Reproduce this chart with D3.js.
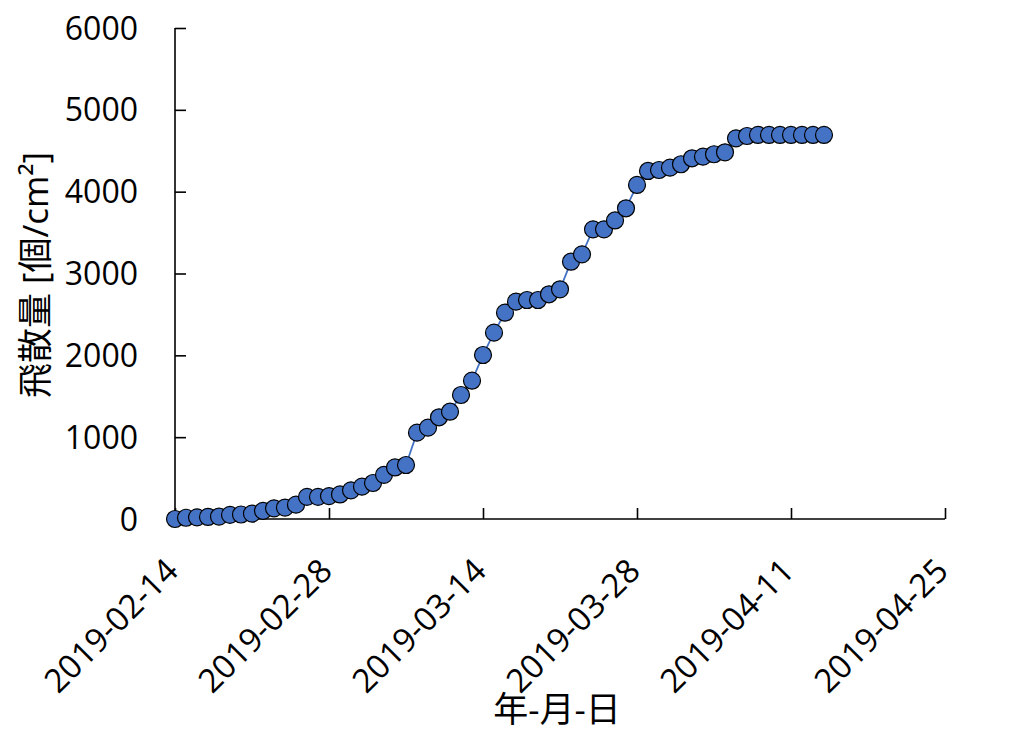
<!DOCTYPE html>
<html>
<head>
<meta charset="utf-8">
<script src="https://cdn.jsdelivr.net/npm/d3@7"></script>
<style>
body { margin: 0; background: #fff; }
svg text { font-family: "Open Sans", "Noto Sans CJK JP", sans-serif; fill: #000; }
</style>
</head>
<body>
<div id="chart"></div>
<script>
// daily counts starting from firstDay
var firstDay = "2019-02-14";
var values = [0, 15, 20, 25, 30, 50, 55, 65, 100, 130, 140, 175,
	270, 270, 280, 300, 350, 395, 440, 540, 630, 660,
	1055, 1116, 1243, 1311, 1515, 1690, 2004, 2277, 2521, 2656, 2676, 2676, 2746, 2807,
	3144, 3234, 3540, 3540, 3648, 3797, 4082, 4253, 4265, 4293, 4335, 4408, 4428, 4457, 4481,
	4652, 4680, 4693, 4693, 4693, 4693, 4693, 4693, 4693];
var xTicks = ["2019-02-14", "2019-02-28", "2019-03-14", "2019-03-28", "2019-04-11", "2019-04-25"];
var yTicks = [0, 1000, 2000, 3000, 4000, 5000, 6000];
var xTitle = "年-月-日";
var yTitle = "飛散量 [個/cm²]";

var parse = d3.timeParse("%Y-%m-%d");
var start = parse(firstDay);
var data = values.map(function(v, i)
{
	return {date: d3.timeDay.offset(start, i), value: v};
});

var width = 1013, height = 744;
var svg = d3.select("#chart")
	.append("svg")
	.attr("width", width)
	.attr("height", height);

var x = d3.scaleTime()
	.domain([parse(xTicks[0]), parse(xTicks[xTicks.length - 1])])
	.range([175, 945]);
var y = d3.scaleLinear()
	.domain([0, 6000])
	.range([519, 28]);

// y axis
var yAxis = svg.append("g")
	.attr("transform", "translate(175,0)")
	.call(d3.axisRight(y).tickValues(yTicks).tickSize(11).tickFormat(""));
yAxis.selectAll("path, line").attr("stroke", "#000").attr("stroke-width", 1.6);
yAxis.select(".domain").attr("d", "M0," + y(6000) + "V" + y(0));

svg.append("g")
	.selectAll("text")
	.data(yTicks)
	.enter()
	.append("text")
	.attr("x", 138)
	.attr("y", function(d) { return y(d); })
	.attr("dy", "0.36em")
	.attr("text-anchor", "end")
	.style("font-size", "32px")
	.text(function(d) { return d; });

// x axis
var xAxis = svg.append("g")
	.attr("transform", "translate(0,519)")
	.call(d3.axisTop(x).tickValues(xTicks.map(parse)).tickSize(11).tickFormat(""));
xAxis.selectAll("path, line").attr("stroke", "#000").attr("stroke-width", 1.6);
xAxis.select(".domain").attr("d", "M" + x.range()[0] + ",0H" + x.range()[1]);

svg.append("g")
	.selectAll("text")
	.data(xTicks)
	.enter()
	.append("text")
	.attr("transform", function(d)
	{
		return "translate(" + (x(parse(d)) + 5) + ",573) rotate(-45)";
	})
	.attr("text-anchor", "end")
	.style("font-size", "33px")
	.text(function(d) { return d; });

// titles
svg.append("text")
	.attr("x", 557)
	.attr("y", 709)
	.attr("dy", "0.36em")
	.attr("text-anchor", "middle")
	.style("font-size", "35px")
	.text(xTitle);

svg.append("text")
	.attr("transform", "translate(35,275) rotate(-90)")
	.attr("dy", "0.36em")
	.attr("text-anchor", "middle")
	.style("font-size", "35px")
	.text(yTitle);

// series
var line = d3.line()
	.x(function(d) { return x(d.date); })
	.y(function(d) { return y(d.value); });

svg.append("path")
	.datum(data)
	.attr("d", line)
	.attr("fill", "none")
	.attr("stroke", "#4472C4")
	.attr("stroke-width", 1.8);

svg.append("g")
	.selectAll("circle")
	.data(data)
	.enter()
	.append("circle")
	.attr("cx", function(d) { return x(d.date); })
	.attr("cy", function(d) { return y(d.value); })
	.attr("r", 8.5)
	.attr("fill", "#4472C4")
	.attr("stroke", "#000")
	.attr("stroke-width", 1.2);
</script>
</body>
</html>
